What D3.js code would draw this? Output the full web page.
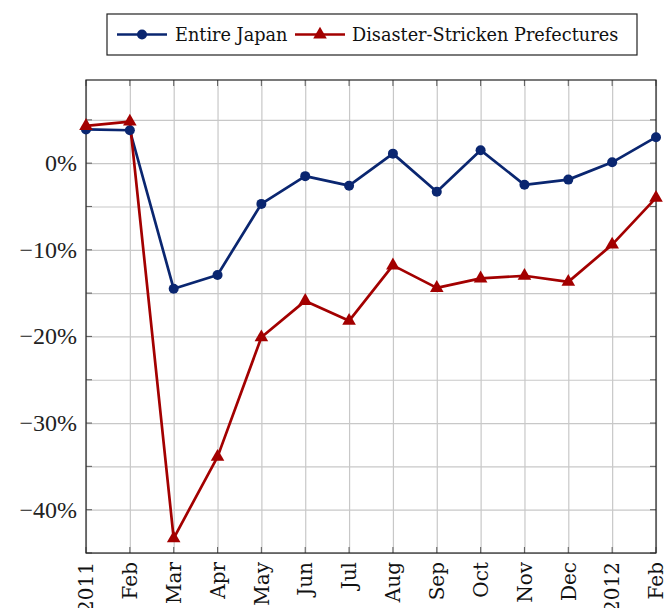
<!DOCTYPE html>
<html>
<head>
<meta charset="utf-8">
<script src="https://cdn.jsdelivr.net/npm/d3@7"></script>
<style>
  body { margin: 0; background: #fff; }
  svg { display: block; }
  .grid line { stroke: #c8c8c8; stroke-width: 1.2; }
  .grid path { display: none; }
  .ylab { font-family: 'Liberation Serif', serif; font-size: 24px; fill: #222; }
  .xlab { font-family: 'DejaVu Serif', serif; font-size: 20px; fill: #111; }
  .legend text { font-family: 'DejaVu Serif', serif; font-size: 17.7px; fill: #111; }
</style>
</head>
<body>
<svg width="667" height="608"></svg>
<script>
const months = ['2011', 'Feb', 'Mar', 'Apr', 'May', 'Jun', 'Jul', 'Aug',
  'Sep', 'Oct', 'Nov', 'Dec', '2012', 'Feb '];

const entireJapan = [3.9, 3.8, -14.5, -12.9, -4.7, -1.5, -2.6, 1.1,
  -3.3, 1.5, -2.5, -1.9, 0.1, 3.0];

const disasterStricken = [4.3, 4.8, -43.3, -33.9, -20.1, -15.9, -18.2, -11.8,
  -14.4, -13.3, -13.0, -13.7, -9.4, -4.0];

const gridTicks = [-45, -40, -35, -30, -25, -20, -15, -10, -5, 0, 5];
const labelTicks = [-40, -30, -20, -10, 0];

const blue = '#0a2670';
const red = '#a30000';

const svg = d3.select('svg');

const plotLeft = 86, plotRight = 656, plotTop = 80, plotBottom = 553;

const xScale = d3.scalePoint()
  .domain(months)
  .range([plotLeft, plotRight]);

const yScale = d3.scaleLinear()
  .domain([-45, 9.6])
  .range([plotBottom, plotTop]);

// grid
svg.append('g')
  .attr('class', 'grid')
  .attr('transform', `translate(0, ${plotBottom})`)
  .call(d3.axisBottom(xScale).tickSize(-(plotBottom - plotTop)).tickFormat(''));

svg.append('g')
  .attr('class', 'grid')
  .attr('transform', `translate(${plotLeft}, 0)`)
  .call(d3.axisLeft(yScale).tickValues(gridTicks).tickSize(-(plotRight - plotLeft)).tickFormat(''));

// small inner ticks on all four sides
const tickLen = 6;
const tickG = svg.append('g').attr('stroke', '#666').attr('stroke-width', 1.1);
gridTicks.forEach(v => {
  tickG.append('line').attr('x1', plotLeft).attr('x2', plotLeft + tickLen)
    .attr('y1', yScale(v)).attr('y2', yScale(v));
  tickG.append('line').attr('x1', plotRight).attr('x2', plotRight - tickLen)
    .attr('y1', yScale(v)).attr('y2', yScale(v));
});
months.forEach(m => {
  tickG.append('line').attr('x1', xScale(m)).attr('x2', xScale(m))
    .attr('y1', plotBottom).attr('y2', plotBottom - tickLen);
  tickG.append('line').attr('x1', xScale(m)).attr('x2', xScale(m))
    .attr('y1', plotTop).attr('y2', plotTop + tickLen);
});

// frame
svg.append('rect')
  .attr('x', plotLeft).attr('y', plotTop)
  .attr('width', plotRight - plotLeft).attr('height', plotBottom - plotTop)
  .attr('fill', 'none').attr('stroke', '#222').attr('stroke-width', 1.2);

// y labels
svg.selectAll('.ylab')
  .data(labelTicks)
  .enter()
  .append('text')
  .attr('class', 'ylab')
  .attr('x', 77)
  .attr('y', d => yScale(d))
  .attr('dy', '0.33em')
  .attr('text-anchor', 'end')
  .text(d => (d < 0 ? '\u2212' + Math.abs(d) : d) + '%');

// x labels (2011 / 2012 run off the bottom edge, as in the original)
svg.selectAll('.xlab')
  .data(months)
  .enter()
  .append('text')
  .attr('class', 'xlab')
  .attr('transform', d => `translate(${xScale(d)}, ${plotBottom + 9}) rotate(-90)`)
  .attr('text-anchor', 'end')
  .attr('dy', '0.36em')
  .text(d => d.trim());

// lines
const line = d3.line()
  .x((d, i) => xScale(months[i]))
  .y(d => yScale(d));

svg.append('path')
  .datum(entireJapan)
  .attr('fill', 'none')
  .attr('stroke', blue)
  .attr('stroke-width', 2.7)
  .attr('stroke-linejoin', 'round')
  .attr('d', line);

svg.append('path')
  .datum(disasterStricken)
  .attr('fill', 'none')
  .attr('stroke', red)
  .attr('stroke-width', 2.7)
  .attr('stroke-linejoin', 'round')
  .attr('d', line);

const triangle = 'M0,-7.8L6.8,4L-6.8,4Z';

svg.selectAll('.dot')
  .data(entireJapan)
  .enter()
  .append('circle')
  .attr('cx', (d, i) => xScale(months[i]))
  .attr('cy', d => yScale(d))
  .attr('r', 5)
  .attr('fill', blue);

svg.selectAll('.tri')
  .data(disasterStricken)
  .enter()
  .append('path')
  .attr('transform', (d, i) => `translate(${xScale(months[i])}, ${yScale(d)})`)
  .attr('d', triangle)
  .attr('fill', red);

// legend
const legend = svg.append('g').attr('class', 'legend');
legend.append('rect')
  .attr('x', 107).attr('y', 14)
  .attr('width', 530).attr('height', 41)
  .attr('fill', '#fff').attr('stroke', '#222').attr('stroke-width', 1.2);

legend.append('line')
  .attr('x1', 117).attr('x2', 167).attr('y1', 34.5).attr('y2', 34.5)
  .attr('stroke', blue).attr('stroke-width', 2.7);
legend.append('circle')
  .attr('cx', 142).attr('cy', 34.5).attr('r', 5).attr('fill', blue);
legend.append('text')
  .attr('x', 175).attr('y', 34.5).attr('dy', '0.36em')
  .text('Entire Japan');

legend.append('line')
  .attr('x1', 295).attr('x2', 345).attr('y1', 34.5).attr('y2', 34.5)
  .attr('stroke', red).attr('stroke-width', 2.7);
legend.append('path')
  .attr('transform', 'translate(320, 34.5)')
  .attr('d', triangle).attr('fill', red);
legend.append('text')
  .attr('x', 352).attr('y', 34.5).attr('dy', '0.36em')
  .text('Disaster-Stricken Prefectures');
</script>
</body>
</html>
